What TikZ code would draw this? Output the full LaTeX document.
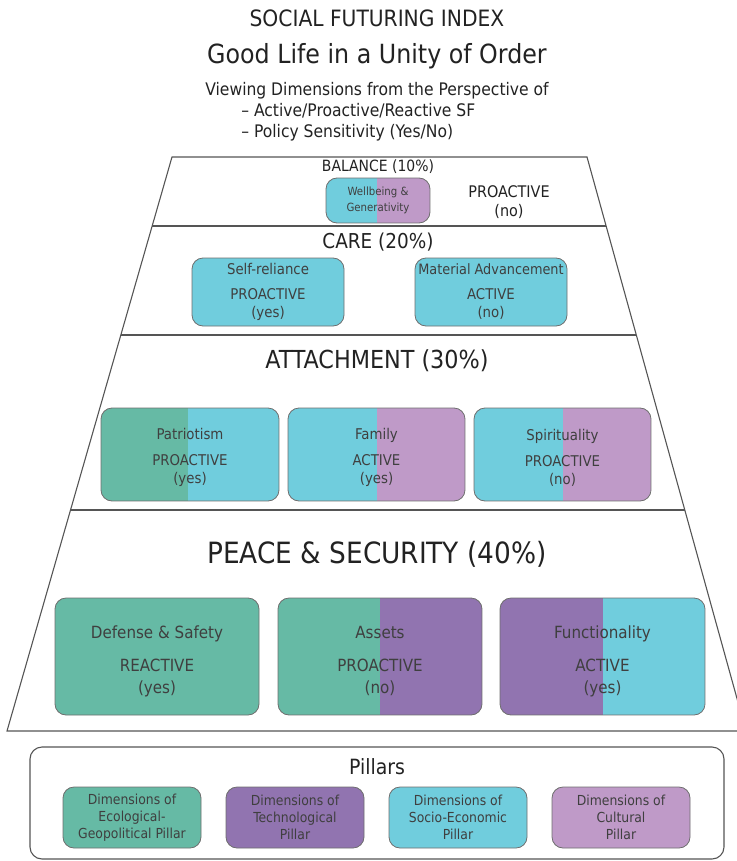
\documentclass[tikz,border=0pt]{standalone}
\usepackage{fontspec}
\setmainfont{DejaVu Sans Condensed}
\usetikzlibrary{calc}
\definecolor{cgreen}{HTML}{66BAA5}
\definecolor{cpurple}{HTML}{9174B0}
\definecolor{ccyan}{HTML}{70CDDD}
\definecolor{clilac}{HTML}{BF9AC8}
\definecolor{ctext}{HTML}{3F3F3F}
\definecolor{ctitle}{HTML}{222222}
\definecolor{cline}{HTML}{555555}
\newcommand{\dn}[1]{\rule{0pt}{\dimexpr0.76em+#1\relax}}
\tikzset{
  box/.style={draw=cline!85, line width=0.8pt, rounded corners=11pt, inner sep=0pt,
    text=ctext, align=center},
  split/.style n args={3}{path picture={
    \fill[#1, sharp corners] (path picture bounding box.south west) rectangle
      ($(path picture bounding box.north west)!#3!(path picture bounding box.north east)$);
    \fill[#2, sharp corners] ($(path picture bounding box.south west)!#3!(path picture bounding box.south east)$)
      rectangle (path picture bounding box.north east);}},
  frame/.style={draw=cline, line width=1.1pt},
  fsz/.style 2 args={font=\fontsize{#1pt}{#2pt}\selectfont},
  ttl/.style={text=ctitle, inner sep=0pt, align=center},
}
\begin{document}
\begin{tikzpicture}[x=1pt,y=-1pt]
\useasboundingbox (0,0) rectangle (736,861);
% header
\node[ttl, fsz={22.5}{26}] (h1) at (377,18) {SOCIAL FUTURING INDEX};
\node[ttl, fsz={26.4}{30}] (h2) at (377,56) {Good Life in a Unity of Order};
\node[ttl, fsz={17.3}{21}, align=left] (h3) at (377,111.5) {Viewing Dimensions from the Perspective of\\
\hspace*{36pt}-- Active/Proactive/Reactive SF\\
\hspace*{36pt}-- Policy Sensitivity (Yes/No)};
% trapezoid
\coordinate (tl) at (172,157);
\coordinate (tr) at (587,157);
\coordinate (bl) at (7,731);
\coordinate (br) at (746,731);
\draw[frame] (tl) -- (tr) -- (br) -- (bl) -- cycle;
\draw[frame] ($(tl)!0.1202!(bl)$) -- ($(tr)!0.1202!(br)$);
\draw[frame] ($(tl)!0.3101!(bl)$) -- ($(tr)!0.3101!(br)$);
\draw[frame] ($(tl)!0.6150!(bl)$) -- ($(tr)!0.6150!(br)$);
% BALANCE
\node[ttl, fsz={15.5}{18}] (bal) at (378,167) {BALANCE (10\%)};
\node[box, split={ccyan}{clilac}{0.49}, minimum width=104pt, minimum height=45pt, fsz={11.3}{16.5}]
  (wb) at (378,200.5) {Wellbeing \&\\Generativity};
\node[ttl, fsz={16}{18.5}] (wbt) at (509,202) {PROACTIVE\\(no)};
% CARE
\node[ttl, fsz={20.5}{24}] (care) at (378,242) {CARE (20\%)};
\node[box, fill=ccyan, minimum width=152pt, minimum height=68pt, fsz={14.8}{18}]
  (self) at (268,292) {Self-reliance\\[7pt]PROACTIVE\\(yes)};
\node[box, fill=ccyan, minimum width=152pt, minimum height=68pt, fsz={14.3}{18}]
  (mat) at (491,292) {Material Advancement\\[7pt]{\fontsize{14.8pt}{18pt}\selectfont ACTIVE}\\{\fontsize{14.8pt}{18pt}\selectfont(no)}};
% ATTACHMENT
\node[ttl, fsz={24.8}{28}] (att) at (377,361) {ATTACHMENT (30\%)};
\node[box, split={cgreen}{ccyan}{0.49}, minimum width=178pt, minimum height=93pt, fsz={14.8}{18}]
  (pat) at (190,454.5) {\dn{6pt}Patriotism\\[8pt]PROACTIVE\\(yes)};
\node[box, split={ccyan}{clilac}{0.50}, minimum width=177pt, minimum height=93pt, fsz={14.8}{18}]
  (fam) at (376.5,454.5) {\dn{6pt}Family\\[8pt]ACTIVE\\(yes)};
\node[box, split={ccyan}{clilac}{0.50}, minimum width=177pt, minimum height=93pt, fsz={14.8}{18}]
  (spi) at (562.5,454.5) {\dn{6pt}Spirituality\\[8pt]PROACTIVE\\(no)};
% PEACE & SECURITY
\node[ttl, fsz={29.3}{33}] (pea) at (377,554) {PEACE \& SECURITY (40\%)};
\node[box, fill=cgreen, minimum width=204pt, minimum height=117pt, fsz={16.8}{22}]
  (def) at (157,656.5) {\dn{9pt}Defense \& Safety\\[11pt]REACTIVE\\(yes)};
\node[box, split={cgreen}{cpurple}{0.50}, minimum width=204pt, minimum height=117pt, fsz={16.8}{22}]
  (ass) at (380,656.5) {\dn{9pt}Assets\\[11pt]PROACTIVE\\(no)};
\node[box, split={cpurple}{ccyan}{0.50}, minimum width=205pt, minimum height=117pt, fsz={16.8}{22}]
  (fun) at (602.5,656.5) {\dn{9pt}Functionality\\[11pt]ACTIVE\\(yes)};
% Pillars
\node[draw=cline, line width=1.1pt, rounded corners=12pt, minimum width=694pt, minimum height=112pt, inner sep=0pt]
  (pil) at (377,803) {};
\node[ttl, fsz={21}{24}] (pilt) at (377,767) {Pillars};
\node[box, fill=cgreen, minimum width=138pt, minimum height=61pt, fsz={13.8}{17}]
  (p1) at (132,817.5) {Dimensions of\\Ecological-\\Geopolitical Pillar};
\node[box, fill=cpurple, minimum width=138pt, minimum height=61pt, fsz={13.8}{17}]
  (p2) at (295,817.5) {Dimensions of\\Technological\\Pillar};
\node[box, fill=ccyan, minimum width=138pt, minimum height=61pt, fsz={13.8}{17}]
  (p3) at (458,817.5) {Dimensions of\\Socio-Economic\\Pillar};
\node[box, fill=clilac, minimum width=138pt, minimum height=61pt, fsz={13.8}{17}]
  (p4) at (621,817.5) {Dimensions of\\Cultural\\Pillar};
\end{tikzpicture}
\end{document}
